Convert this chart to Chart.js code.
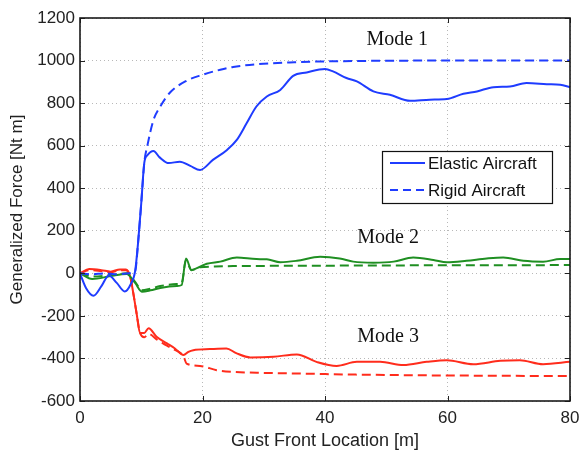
<!DOCTYPE html>
<html>
<head>
<meta charset="utf-8">
<script src="https://cdn.jsdelivr.net/npm/chart.js@4.4.1/dist/chart.umd.min.js"></script>
<style>
html,body{margin:0;padding:0;background:#fff;}
canvas{display:block;}
</style>
</head>
<body>
<canvas id="c" width="580" height="453"></canvas>
<script>
// ---- Data ----
const xTicks = [0, 20, 40, 60, 80];
const yTicks = [-600, -400, -200, 0, 200, 400, 600, 800, 1000, 1200];

const legendLabels = ['Elastic Aircraft', 'Rigid Aircraft'];
const modeNames = ['Mode 1', 'Mode 2', 'Mode 3'];

// Mode 1 - elastic (blue solid)
const xElastic1 = [0, 1, 2.2, 3.5, 4.7, 6, 7.3, 8.3, 9, 9.5, 10, 10.5, 11, 12, 13, 14.5, 16.3, 18, 19.6, 21.7, 24, 25.6, 27.2, 28.8, 30.5, 32.7, 34.8, 37, 40, 41.3, 43.5, 45.2, 47.9, 50.6, 53.9, 57.1, 59.9, 62.6, 64.8, 67.5, 70.2, 72.9, 76.2, 78.4, 80];
const yElastic1 = [0, -70, -105, -60, -10, -45, -85, -50, 10, 150, 330, 520, 555, 575, 545, 518, 525, 505, 486, 533, 580, 627, 705, 784, 831, 862, 928, 944, 960, 949, 918, 902, 855, 839, 811, 816, 819, 844, 855, 875, 878, 894, 889, 886, 875];
// Mode 1 - rigid (blue dashed)
const xRigid1 = [0, 2, 4, 6, 8, 9, 9.5, 10, 10.5, 11, 12, 13.1, 14.7, 17.4, 20, 22.9, 25, 30, 35, 40, 50, 60, 70, 80];
const yRigid1 = [0, -5, 0, -5, 0, 10, 150, 330, 520, 600, 721, 784, 850, 905, 933, 957, 970, 985, 992, 996, 999, 1000, 1000, 1000];

// Mode 2 - elastic (green solid)
const xElastic2 = [0, 2, 5, 7.6, 9, 10.1, 11.5, 13.1, 15.8, 16.6, 17.3, 18.2, 19.6, 20.7, 22.9, 25.6, 28.8, 30.5, 32.7, 35.4, 39.2, 42.4, 44.6, 47.9, 51.2, 54.4, 57.7, 59.9, 63.1, 66.4, 69.1, 72.4, 75.6, 78.4, 80];
const yElastic2 = [0, -27, -13, -3, -45, -86, -80, -69, -60, -55, 70, 16, 31, 45, 55, 74, 67, 66, 52, 59, 78, 70, 55, 50, 55, 74, 63, 52, 59, 70, 75, 59, 55, 67, 67];
// Mode 2 - rigid (green dashed)
const xRigid2 = [0, 2, 5, 7.6, 9, 10.1, 11.5, 13.1, 15.8, 16.6, 17.3, 18.2, 19.6, 22, 25, 30, 40, 50, 60, 70, 80];
const yRigid2 = [0, -15, -8, 0, -40, -80, -72, -60, -50, -45, 60, 15, 28, 32, 34, 35, 36, 37, 38, 38, 39];

// Mode 3 - elastic (red solid)
const xElastic3 = [0, 1.5, 3.5, 5, 6.5, 7.5, 8.2, 8.7, 9.25, 9.8, 10.5, 11.2, 12.5, 14.2, 15.5, 16.9, 17.7, 18.5, 21.2, 23.9, 25.5, 27.8, 31.6, 35.4, 38.6, 41.9, 45.2, 49, 52.8, 56.6, 59.9, 64.2, 68.6, 71.8, 75.6, 80];
const yElastic3 = [0, 20, 15, 8, 18, 18, -16, -93, -190, -280, -280, -258, -298, -329, -353, -384, -369, -361, -356, -353, -375, -395, -392, -381, -416, -435, -416, -416, -431, -416, -408, -427, -411, -408, -427, -416];
// Mode 3 - rigid (red dashed)
const xRigid3 = [0, 1.5, 3.5, 5, 6.5, 7.5, 8.2, 8.7, 9.25, 9.8, 10.5, 11.2, 12.5, 14.2, 15.5, 16.9, 17.4, 19.6, 22.3, 25, 30, 35.9, 45, 55, 65, 80];
const yRigid3 = [0, 15, 10, 5, 15, 15, -16, -93, -190, -280, -300, -285, -310, -340, -360, -390, -424, -435, -455, -463, -468, -471, -476, -479, -481, -483];

// ---- Styling ----
const BLUE = '#1f3cff', GREEN = '#1f8f22', RED = '#ff2c1c';
const DASH = [9, 5];
const SANS = '"Liberation Sans", Arial, sans-serif';

function pts(xs, ys){ return xs.map((x, i) => ({x: x, y: ys[i]})); }
function ds(label, xs, ys, color, dashed){
  return {
    label: label, data: pts(xs, ys), borderColor: color, backgroundColor: color,
    borderWidth: 2, borderDash: dashed ? DASH : [], pointRadius: 0,
    cubicInterpolationMode: 'monotone', fill: false
  };
}

const datasets = [
  ds(legendLabels[0] + ' 1', xElastic1, yElastic1, BLUE, false),
  ds(legendLabels[1] + ' 1', xRigid1, yRigid1, BLUE, true),
  ds(legendLabels[0] + ' 2', xElastic2, yElastic2, GREEN, false),
  ds(legendLabels[1] + ' 2', xRigid2, yRigid2, GREEN, true),
  ds(legendLabels[0] + ' 3', xElastic3, yElastic3, RED, false),
  ds(legendLabels[1] + ' 3', xRigid3, yRigid3, RED, true)
];

const modeLabelPos = [
  {x: 51.8, y: 1100},
  {x: 50.3, y: 166},
  {x: 50.3, y: -300}
];

const decorPlugin = {
  id: 'decor',
  afterDatasetsDraw(chart){
    const ctx = chart.ctx, a = chart.chartArea;
    const xs = chart.scales.x, ys = chart.scales.y;
    ctx.save();
    // inward tick marks
    ctx.strokeStyle = '#222'; ctx.lineWidth = 1;
    ctx.beginPath();
    xTicks.forEach(v => {
      const p = Math.round(xs.getPixelForValue(v)) + 0.5;
      ctx.moveTo(p, a.bottom); ctx.lineTo(p, a.bottom - 5);
      ctx.moveTo(p, a.top); ctx.lineTo(p, a.top + 5);
    });
    yTicks.forEach(v => {
      const p = Math.round(ys.getPixelForValue(v)) + 0.5;
      ctx.moveTo(a.left, p); ctx.lineTo(a.left + 5, p);
      ctx.moveTo(a.right, p); ctx.lineTo(a.right - 5, p);
    });
    ctx.stroke();
    // axes box
    ctx.lineWidth = 1.6; ctx.strokeStyle = '#1a1a1a';
    ctx.strokeRect(a.left, a.top, a.right - a.left, a.bottom - a.top);
    // mode labels
    ctx.fillStyle = '#111';
    ctx.font = '20px "Liberation Serif", "DejaVu Serif", serif';
    ctx.textAlign = 'center'; ctx.textBaseline = 'middle';
    modeNames.forEach((t, i) => {
      ctx.fillText(t, xs.getPixelForValue(modeLabelPos[i].x), ys.getPixelForValue(modeLabelPos[i].y));
    });
    // legend
    const lx = a.right - 188, ly = a.top + 133, lw = 170, lh = 52;
    ctx.fillStyle = '#fff';
    ctx.fillRect(lx, ly, lw, lh);
    ctx.lineWidth = 1.2; ctx.strokeStyle = '#111';
    ctx.strokeRect(lx + 0.5, ly + 0.5, lw, lh);
    ctx.lineWidth = 2; ctx.strokeStyle = BLUE;
    [false, true].forEach((dashed, i) => {
      const yy = ly + 12 + i * 27;
      ctx.setLineDash(dashed ? [8, 5] : []);
      ctx.beginPath(); ctx.moveTo(lx + 8, yy); ctx.lineTo(lx + 43, yy); ctx.stroke();
    });
    ctx.setLineDash([]);
    ctx.fillStyle = '#111';
    ctx.font = '17px ' + SANS;
    ctx.textAlign = 'left'; ctx.textBaseline = 'middle';
    legendLabels.forEach((t, i) => ctx.fillText(t, lx + 46, ly + 13 + i * 27));
    ctx.restore();
  }
};

new Chart(document.getElementById('c'), {
  type: 'line',
  data: { datasets: datasets },
  plugins: [decorPlugin],
  options: {
    responsive: false,
    devicePixelRatio: 1,
    animation: false,
    layout: { padding: { left: 0, top: 18, right: 10, bottom: 0 } },
    plugins: { legend: { display: false }, tooltip: { enabled: false } },
    scales: {
      x: {
        type: 'linear', min: 0, max: 80,
        afterBuildTicks: s => { s.ticks = xTicks.map(v => ({value: v})); },
        afterFit: s => { s.height = 52; s.paddingLeft = 0; s.paddingRight = 0; },
        ticks: { color: '#222', padding: 7, font: { family: SANS, size: 17 }, callback: v => String(v) },
        grid: { color: '#b8b8b8', lineWidth: 1, drawTicks: false },
        border: { display: false, dash: [1, 3] },
        title: { display: true, text: 'Gust Front Location [m]', color: '#222', padding: { top: 0, bottom: 1 },
                 font: { family: SANS, size: 18 } }
      },
      y: {
        type: 'linear', min: -600, max: 1200,
        afterBuildTicks: s => { s.ticks = yTicks.map(v => ({value: v})); },
        afterFit: s => { s.width = 80; s.paddingTop = 0; s.paddingBottom = 0; },
        ticks: { color: '#222', padding: 5, font: { family: SANS, size: 17 }, callback: v => String(v) },
        grid: { color: '#b8b8b8', lineWidth: 1, drawTicks: false },
        border: { display: false, dash: [1, 3] },
        title: { display: true, text: 'Generalized Force [Nt m]', color: '#222', padding: { top: 7, bottom: 0 },
                 font: { family: SANS, size: 17 } }
      }
    }
  }
});
</script>
</body>
</html>
